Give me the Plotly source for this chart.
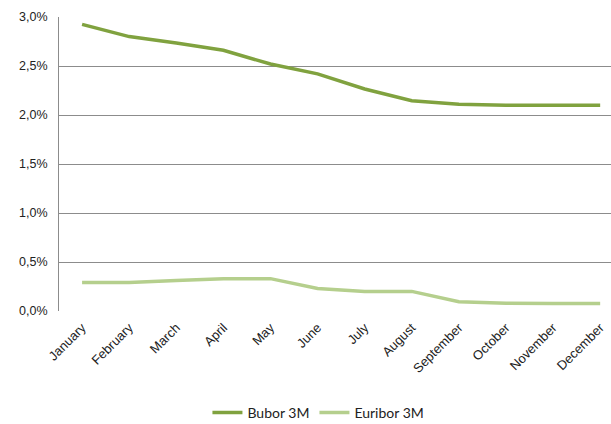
import plotly.graph_objects as go

# Monthly 3-month interbank rates, in percent
months = ["January", "February", "March", "April", "May", "June",
          "July", "August", "September", "October", "November", "December"]
bubor_3m = [2.925, 2.80, 2.735, 2.66, 2.52, 2.42, 2.265, 2.145, 2.11, 2.10, 2.10, 2.10]
euribor_3m = [0.29, 0.29, 0.31, 0.33, 0.33, 0.23, 0.20, 0.20, 0.095, 0.08, 0.077, 0.077]

y_tick_vals = [0.0, 0.5, 1.0, 1.5, 2.0, 2.5, 3.0]
y_tick_text = ["0,0%", "0,5%", "1,0%", "1,5%", "2,0%", "2,5%", "3,0%"]

x_idx = list(range(len(months)))

fig = go.Figure()
fig.add_trace(go.Scatter(
    x=x_idx, y=bubor_3m, mode="lines", name="Bubor 3M",
    line=dict(color="#80A23F", width=3.5),
))
fig.add_trace(go.Scatter(
    x=x_idx, y=euribor_3m, mode="lines", name="Euribor 3M",
    line=dict(color="#B5CF8D", width=3.5),
))

fig.update_layout(
    width=611, height=424,
    margin=dict(l=59, r=0, t=17, b=113, autoexpand=False),
    paper_bgcolor="white", plot_bgcolor="white",
    font=dict(family="Arial", size=12, color="#222222"),
    showlegend=True,
    legend=dict(
        orientation="h", x=0.47, xanchor="center", y=-0.347, yanchor="middle",
        font=dict(family="Lato", size=14, color="#222222"),
        itemwidth=30, traceorder="normal",
    ),
    xaxis=dict(
        range=[-0.49, 11.23], automargin=False,
        tickvals=x_idx, ticktext=months, tickangle=-45,
        showgrid=False, zeroline=False, showline=False,
        ticks="outside", ticklen=3, tickcolor="rgba(0,0,0,0)",
        tickfont=dict(family="Arial", size=13),
    ),
    yaxis=dict(
        range=[0, 3.0], automargin=False,
        tickvals=y_tick_vals, ticktext=y_tick_text,
        showgrid=True, gridcolor="#8C8C8C", gridwidth=1,
        zeroline=False, showline=True, linecolor="#8C8C8C", linewidth=1,
        ticks="outside", ticklen=8, tickcolor="rgba(0,0,0,0)",
        tickfont=dict(family="Arial", size=12.5),
    ),
)

fig.write_html("out.html")
